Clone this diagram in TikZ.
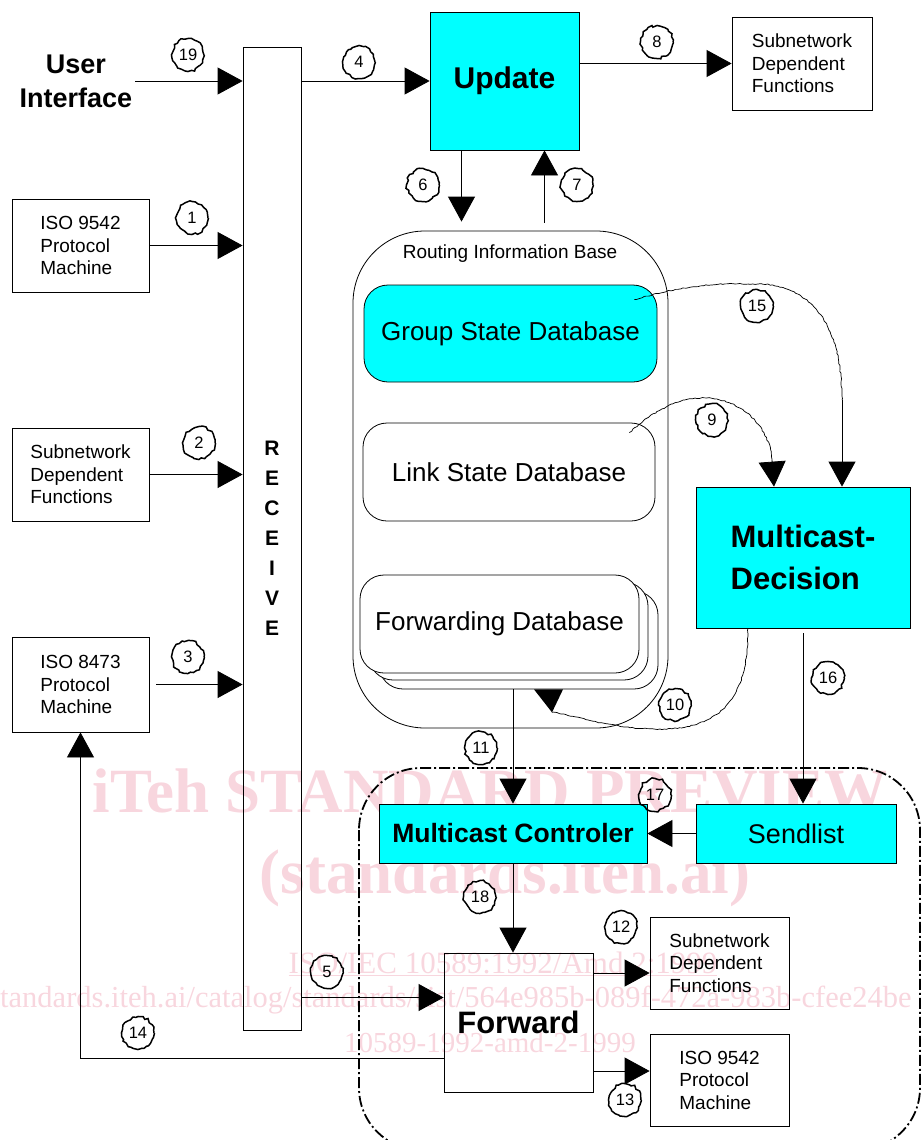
\documentclass[tikz,border=0pt]{standalone}
\usepackage{fontspec}
\setmainfont{Liberation Sans}
\newfontfamily\wmfont{Liberation Serif}
\usetikzlibrary{arrows.meta,calc,decorations.pathmorphing}
\definecolor{boxcyan}{RGB}{0,255,255}
\definecolor{wmpink}{RGB}{248,214,222}
\tikzset{
	box/.style={draw, rectangle, inner sep=0pt, align=left, line width=.8pt, font=\fontsize{19}{22.5}\selectfont},
	dbbox/.style={draw, rectangle, rounded corners=24pt, inner sep=0pt, line width=.8pt, fill=white, font=\fontsize{26}{30}\selectfont},
	arr/.style={-{Triangle[length=25pt,width=27pt]}, line width=.8pt},
	wavy/.style={decorate, decoration={random steps, segment length=2.5pt, amplitude=.6pt}, line width=.7pt},
	num/.style={draw, circle, minimum size=32pt, inner sep=0pt, line width=1.5pt, decorate, decoration={random steps, segment length=3pt, amplitude=1.2pt}, font=\fontsize{16.5}{16.5}\selectfont},
	wm/.style={text=wmpink, inner sep=0pt},
	region/.style={line width=1.8pt, rounded corners=62pt, dash pattern=on 11pt off 3pt on 2pt off 3pt}
}
\begin{document}
\begin{tikzpicture}[x=1pt,y=-1pt]
	\useasboundingbox (0,0) rectangle (921,1140);

	%watermark
	\node[wm,anchor=base,font=\wmfont\bfseries\fontsize{63}{63}\selectfont] (wmA) at (490,812) {iTeh STANDARD PREVIEW};
	\node[wm,anchor=base,font=\wmfont\bfseries\fontsize{63}{63}\selectfont] (wmB) at (505,893) {(standards.iteh.ai)};
	\node[wm,anchor=base,font=\wmfont\fontsize{31}{31}\selectfont] (wmC) at (503,973) {\underline{ISO/IEC 10589:1992/Amd 2:1999}};
	\node[wm,anchor=base west,font=\wmfont\fontsize{30.5}{30.5}\selectfont] (wmD) at (0,1007) {tandards.iteh.ai/catalog/standards/sist/564e985b-089f-472a-983b-cfee24be};
	\node[wm,anchor=base,font=\wmfont\fontsize{29}{29}\selectfont] (wmE) at (490,1052) {10589-1992-amd-2-1999};

	%forward region
	\draw[region] (359,768) rectangle (920,1150);

	%left column
	\node[font=\bfseries\fontsize{27}{34}\selectfont, align=center, inner sep=3pt] (ui) at (76,81) {User\\Interface};
	\node[box, minimum width=137pt, minimum height=93pt] (isoA) at (80.5,245.5) {ISO 9542\\Protocol\\Machine};
	\node[box, minimum width=137pt, minimum height=93pt] (sdfA) at (80.5,474.5) {Subnetwork\\Dependent\\Functions};
	\node[box, minimum width=137pt, minimum height=95pt] (isoB) at (80.5,684.5) {ISO 8473\\Protocol\\Machine};
	\node[box, align=center, minimum width=58pt, minimum height=983pt, font=\bfseries\fontsize{21}{30}\selectfont] (recv) at (272,538.5) {R\\E\\C\\E\\I\\V\\E};

	%top row
	\node[box, fill=boxcyan, minimum width=149pt, minimum height=138pt, font=\bfseries\fontsize{30}{30}\selectfont] (upd) at (504.5,81) {Update};
	\node[box, minimum width=140pt, minimum height=93pt] (sdfB) at (802,63.5) {Subnetwork\\Dependent\\Functions};

	%routing information base
	\node[draw, rounded corners=72pt, line width=.8pt, minimum width=315pt, minimum height=497pt] (rib) at (510.5,479.5) {};
	\node[font=\fontsize{19}{19}\selectfont] (ribtitle) at (510,254) {Routing Information Base};
	\node[dbbox, fill=boxcyan, minimum width=293pt, minimum height=97pt] (gsd) at (510.5,333.5) {Group State Database};
	\node[dbbox, minimum width=292pt, minimum height=98pt] (lsd) at (509,472) {Link State Database};
	\node[dbbox, minimum width=279pt, minimum height=98pt] (fdbC) at (518.5,640) {}; %back copy
	\node[dbbox, minimum width=279pt, minimum height=98pt] (fdbB) at (508.5,631) {}; %back copy
	\node[dbbox, minimum width=279pt, minimum height=98pt] (fdb) at (499.5,624) {Forwarding Database};

	%multicast boxes
	\node[box, fill=boxcyan, minimum width=214pt, minimum height=141pt, font=\bfseries\fontsize{31}{42}\selectfont] (md) at (803,557.5) {Multicast-\\Decision};
	\node[box, fill=boxcyan, minimum width=268pt, minimum height=59pt, font=\bfseries\fontsize{26.5}{30}\selectfont] (mc) at (513,833.5) {Multicast Controler};
	\node[box, fill=boxcyan, minimum width=200pt, minimum height=59pt, font=\fontsize{27}{30}\selectfont] (sl) at (796,833.5) {Sendlist};
	\node[box, minimum width=149pt, minimum height=139pt, font=\bfseries\fontsize{31}{31}\selectfont] (fwd) at (518.5,1022.5) {Forward};
	\node[box, minimum width=139pt, minimum height=92pt] (sdfC) at (719.5,963) {Subnetwork\\Dependent\\Functions};
	\node[box, minimum width=139pt, minimum height=92pt] (isoC) at (719.5,1080) {ISO 9542\\Protocol\\Machine};

	%connector ends
	\coordinate (d6) at ([xshift=-43pt]upd.south);
	\coordinate (u7) at ([xshift=40pt]upd.south);
	\coordinate (t12) at ([yshift=-10pt]sdfC.west);
	\coordinate (t13) at ([yshift=9pt]isoC.west);
	\coordinate (f5) at ([yshift=25pt]fwd.west);
	\coordinate (f14) at ([yshift=-35.5pt]fwd.west);

	%straight connectors
	\draw[arr] (ui.east) -- (recv.west |- ui.east); %19
	\draw[arr] (isoA.east) -- (recv.west |- isoA.east); %1
	\draw[arr] (sdfA.east) -- (recv.west |- sdfA.east); %2
	\draw[arr] ([xshift=7pt]isoB.east) -- (recv.west |- isoB.east); %3
	\draw[arr] (recv.east |- upd.west) -- (upd.west); %4
	\draw[arr] (recv.east |- f5) -- (f5); %5
	\draw[arr, shorten >=9pt] (d6) -- (d6 |- rib.north); %6
	\draw[arr, shorten <=8pt] (u7 |- rib.north) -- (u7); %7
	\draw[arr] (upd.east |- sdfB.west) -- (sdfB.west); %8
	\draw[arr] (mc.north |- fdbC.south) -- (mc.north); %11
	\draw[arr] (fwd.east |- t12) -- (t12); %12
	\draw[arr] (fwd.east |- t13) -- (t13); %13
	\draw[arr] (f14) -| (isoB.south); %14
	\draw[arr, shorten <=5pt] (md.south) -- (md.south |- sl.north); %16
	\draw[arr] (sl.west) -- (mc.east); %17
	\draw[arr] (mc.south) -- (mc.south |- fwd.north); %18

	%curved connectors
	\coordinate (s15) at ([xshift=-23pt,yshift=-15pt]gsd.north east);
	\coordinate (e15) at ([xshift=39pt]md.north);
	\coordinate (m15) at ($(e15)+(0,-87)$);
	\draw[wavy] (s15) .. controls (685,285) and (715,283) .. (758,284) .. controls (815,285) and (842,330) .. (m15);
	\draw[arr] (m15) -- (e15); %15
	\coordinate (s9) at ([xshift=-26pt,yshift=-10pt]lsd.north east);
	\coordinate (e9) at ([xshift=-29pt]md.north);
	\coordinate (m9) at ($(e9)+(-2,-27)$);
	\draw[wavy] (s9) .. controls (660,405) and (685,397) .. (707,398) .. controls (745,400) and (770,430) .. (m9);
	\draw[arr] (m9) -- (e9); %9
	\coordinate (s10) at ([xshift=-55pt]md.south);
	\coordinate (t10) at ([xshift=52.5pt,yshift=-39pt]fdb.south);
	\draw[wavy] (s10) .. controls (748,700) and (720,729) .. (660,729) .. controls (610,729) and (575,715) .. (t10);
	\fill (t10) -- ++(-18,-23) -- ++(29,0) -- cycle; %10 head

	%numbers
	\node[num] (n1) at (192,218) {1};
	\node[num] (n2) at (199,443) {2};
	\node[num] (n3) at (188,657) {3};
	\node[num] (n4) at (359,62) {4};
	\node[num] (n5) at (327,972) {5};
	\node[num] (n6) at (423,185) {6};
	\node[num] (n7) at (577,185) {7};
	\node[num] (n8) at (657,42) {8};
	\node[num] (n9) at (712,420) {9};
	\node[num] (n10) at (675,705) {10};
	\node[num] (n11) at (481,748) {11};
	\node[num] (n12) at (621,927) {12};
	\node[num] (n13) at (625,1100) {13};
	\node[num] (n14) at (138,1033) {14};
	\node[num] (n15) at (757,306) {15};
	\node[num] (n16) at (828,678) {16};
	\node[num] (n17) at (655,795) {17};
	\node[num] (n18) at (480,897) {18};
	\node[num] (n19) at (188,55) {19};
\end{tikzpicture}
\end{document}
